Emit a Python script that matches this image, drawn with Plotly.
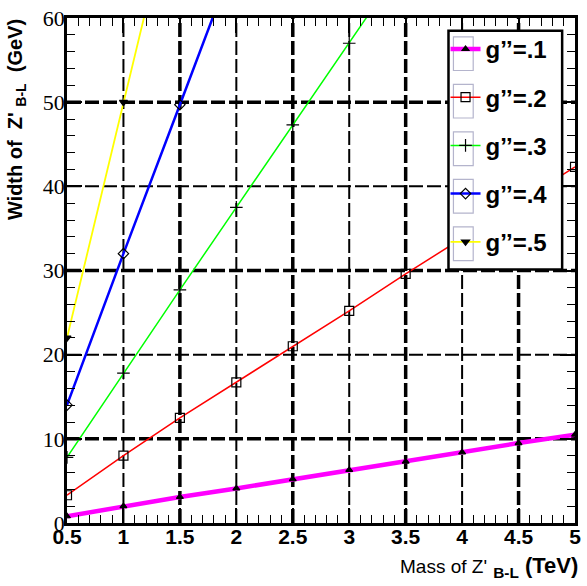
import plotly.graph_objects as go

# Z'(B-L) total width versus mass for several couplings g''
mass = [0.5, 1.0, 1.5, 2.0, 2.5, 3.0, 3.5, 4.0, 4.5, 5.0]
width_g1 = [0.8, 2.0, 3.1, 4.1, 5.2, 6.3, 7.3, 8.4, 9.5, 10.5]
width_g2 = [3.3, 8.0, 12.5, 16.7, 21.0, 25.2, 29.6, 33.8, 38.0, 42.3]
width_g3 = [7.8, 17.8, 27.7, 37.5, 47.3, 57.0, 66.8, 76.6, 86.4, 96.2]
width_g4 = [14.0, 32.0, 49.7, 67.5, 85.2, 103.0, 120.8, 138.5, 156.3, 174.0]
width_g5 = [22.0, 50.0, 77.8, 105.5, 133.2, 161.0, 188.7, 216.5, 244.2, 272.0]

labels = ["g\u2019\u2019=.1", "g\u2019\u2019=.2", "g\u2019\u2019=.3", "g\u2019\u2019=.4", "g\u2019\u2019=.5"]
series = [width_g1, width_g2, width_g3, width_g4, width_g5]
colors = ["#ff00ff", "#ff0000", "#00ff00", "#0000ff", "#ffff00"]
line_widths = [4.5, 1.5, 1.5, 2.5, 1.8]
symbols = ["triangle-up", "square-open", "cross-thin-open", "diamond-open", "triangle-down"]
marker_sizes = [6, 9, 9, 8, 7]

x_ticks = [0.5, 1, 1.5, 2, 2.5, 3, 3.5, 4, 4.5, 5]
y_ticks = [0, 10, 20, 30, 40, 50, 60]
grid_x_thick = [1.5, 2.5, 3.5, 4.5]
grid_x_thin = [1, 2, 3, 4]
grid_y_thick = [10, 30, 50]
grid_y_thin = [20, 40]

W, H = 587, 586
ML, MR, MT, MB = 67, 6, 13, 63
PW, PH = W - ML - MR, H - MT - MB


def px(xp):
    # horizontal pixel -> paper coordinate
    return (xp - ML) / PW


def py(yp):
    # vertical pixel -> paper coordinate
    return (H - MB - yp) / PH


fig = go.Figure()

for i, (lab, ys) in enumerate(zip(labels, series)):
    fig.add_trace(go.Scatter(
        x=mass, y=ys, name=lab, mode="lines+markers",
        legendgroup=lab,
        line=dict(color=colors[i], width=line_widths[i]),
        marker=dict(symbol=symbols[i], size=marker_sizes[i], color="black",
                    line=dict(color="black", width=1.2)),
    ))

shapes = []
for gx in grid_x_thick + grid_x_thin:
    shapes.append(dict(type="line", xref="x", yref="paper", x0=gx, x1=gx, y0=0, y1=1,
                       layer="below",
                       line=dict(color="black", width=3.5 if gx in grid_x_thick else 2,
                                 dash="14px,4px")))
for gy in grid_y_thick + grid_y_thin:
    shapes.append(dict(type="line", xref="paper", yref="y", x0=0, x1=1, y0=gy, y1=gy,
                       layer="below",
                       line=dict(color="black", width=3.5 if gy in grid_y_thick else 2,
                                 dash="14px,4px")))

# legend frame (white panel hiding the curves underneath)
leg_left, leg_right, leg_top, leg_bottom = 453, 568, 26, 267
shapes.append(dict(type="rect", xref="paper", yref="paper",
                   x0=px(leg_left), x1=px(leg_right), y0=py(leg_bottom), y1=py(leg_top),
                   layer="above", fillcolor="white",
                   line=dict(color="black", width=2.5)))
# small frames around each legend sample
entry_step = 48
for k in range(len(labels)):
    cy = 49 + k * entry_step
    shapes.append(dict(type="rect", xref="paper", yref="paper",
                       x0=px(458), x1=px(478), y0=py(cy + 17), y1=py(cy - 17),
                       layer="above", fillcolor="rgba(0,0,0,0)",
                       line=dict(color="#b4b4cc", width=1.2)))

fig.update_layout(
    width=W, height=H,
    margin=dict(l=ML, r=MR, t=MT, b=MB),
    paper_bgcolor="white", plot_bgcolor="white",
    showlegend=True,
    shapes=shapes,
    legend=dict(
        x=px(450), y=py(22), xanchor="left", yanchor="top",
        bgcolor="rgba(0,0,0,0)", borderwidth=0,
        font=dict(family="Liberation Sans", size=24, color="black", weight="bold"),
        tracegroupgap=14, itemwidth=30,
    ),
    xaxis=dict(
        range=[0.5, 5], tickvals=x_ticks, ticktext=[f"{t:g}" for t in x_ticks],
        showgrid=False, zeroline=False,
        showline=True, linecolor="black", linewidth=2.5, mirror="ticks",
        ticks="inside", ticklen=15, tickwidth=1.5, tickcolor="black",
        minor=dict(dtick=0.1, ticks="inside", ticklen=8, tickwidth=1.2, tickcolor="black"),
        tickfont=dict(family="Liberation Sans", size=21, color="black", weight="bold"),
        ticklabelstandoff=-7,
    ),
    yaxis=dict(
        range=[0, 60], tickvals=y_ticks,
        showgrid=False, zeroline=False,
        showline=True, linecolor="black", linewidth=2.5, mirror="ticks",
        ticks="inside", ticklen=15, tickwidth=1.5, tickcolor="black",
        minor=dict(dtick=2, ticks="inside", ticklen=8, tickwidth=1.2, tickcolor="black"),
        tickfont=dict(family="Liberation Serif", size=22, color="black"),
        ticklabelstandoff=-5,
    ),
    annotations=[
        dict(text="<b>Width of  Z' <sub>B-L</sub>  (GeV)</b>", textangle=-90,
             xref="paper", yref="paper", x=px(16), y=py(12),
             xanchor="center", yanchor="top", showarrow=False,
             font=dict(family="Liberation Sans", size=20, color="black")),
        dict(text="<span style='font-size:19px'>Mass of Z'</span> <sub><b>B-L</b></sub> <b>(TeV)</b>",
             xref="paper", yref="paper", x=px(586), y=py(551),
             xanchor="right", yanchor="top", showarrow=False,
             font=dict(family="Liberation Sans", size=22, color="black")),
    ],
)

fig.write_html("out.html")
